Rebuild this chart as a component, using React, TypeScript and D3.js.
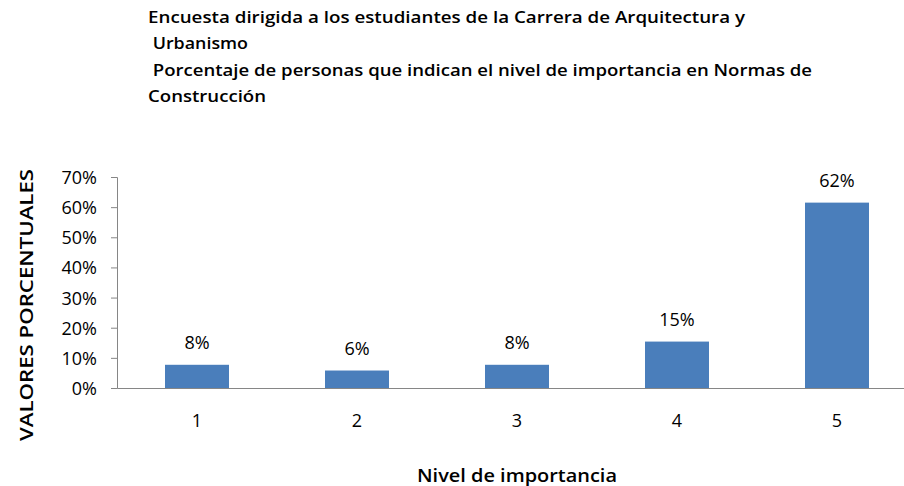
import React, { useEffect, useRef } from "react";
import { select, scaleBand, scaleLinear, axisLeft, axisBottom, format } from "d3";

const categories = ["1", "2", "3", "4", "5"];
const values = [0.077, 0.058, 0.077, 0.154, 0.615];
const yTicks = [0, 0.1, 0.2, 0.3, 0.4, 0.5, 0.6, 0.7];
const titleLines = [
  "Encuesta dirigida a los estudiantes de la Carrera de Arquitectura y",
  " Urbanismo",
  " Porcentaje de personas que indican el nivel de importancia en Normas de",
  "Construcción",
];

function App() {
  const ref = useRef<SVGSVGElement>(null);

  useEffect(() => {
    const svg = select(ref.current);
    svg.selectAll("*").remove();
    const font = "'Open Sans', 'Noto Sans', sans-serif";
    const axisColor = "#868686";

    const x = scaleBand().domain(categories).range([117, 917]).paddingInner(0.6).paddingOuter(0.3);
    const y = scaleLinear().domain([0, 0.7]).range([388, 177]);

    // title
    const titleWidths = [597, 100, 664, 118];
    svg
      .append("g")
      .selectAll("text")
      .data(titleLines)
      .join("text")
      .attr("x", 148)
      .attr("y", (d, i) => 23 + i * 26.3)
      .attr("font-family", font)
      .attr("font-weight", 600)
      .attr("font-size", 16.5)
      .attr("xml:space", "preserve")
      .style("white-space", "pre")
      .attr("textLength", (d, i) => titleWidths[i])
      .attr("lengthAdjust", "spacingAndGlyphs")
      .text((d) => d);

    // y axis
    const yAxis = svg
      .append("g")
      .attr("transform", "translate(117,0)")
      .call(axisLeft(y).tickValues(yTicks).tickFormat(format(".0%")).tickSize(6).tickPadding(14));
    yAxis.select(".domain").attr("stroke", axisColor);
    yAxis.selectAll(".tick line").attr("stroke", axisColor);
    yAxis
      .selectAll(".tick text")
      .attr("font-family", font)
      .attr("font-size", 18)
      .attr("fill", "#000")
      .attr("dy", "0.36em");

    // bars
    svg
      .append("g")
      .selectAll("rect")
      .data(values)
      .join("rect")
      .attr("x", (d, i) => x(categories[i]) as number)
      .attr("y", (d) => y(d))
      .attr("width", x.bandwidth())
      .attr("height", (d) => 388 - y(d))
      .attr("fill", "#4a7ebb");

    // data labels
    svg
      .append("g")
      .selectAll("text")
      .data(values)
      .join("text")
      .attr("x", (d, i) => (x(categories[i]) as number) + x.bandwidth() / 2)
      .attr("y", (d) => y(d) - 16)
      .attr("text-anchor", "middle")
      .attr("font-family", font)
      .attr("font-size", 18)
      .text((d) => format(".0%")(d));

    // x axis
    const xAxis = svg
      .append("g")
      .attr("transform", "translate(0,388)")
      .call(axisBottom(x).tickSize(0).tickPadding(26));
    xAxis.select(".domain").attr("stroke", axisColor);
    xAxis
      .selectAll(".tick text")
      .attr("font-family", font)
      .attr("font-size", 18)
      .attr("fill", "#000");

    // axis titles
    svg
      .append("text")
      .attr("x", 517)
      .attr("y", 482)
      .attr("text-anchor", "middle")
      .attr("font-family", font)
      .attr("font-weight", 600)
      .attr("font-size", 18.5)
      .attr("textLength", 200)
      .attr("lengthAdjust", "spacingAndGlyphs")
      .text("Nivel de importancia");

    svg
      .append("text")
      .attr("transform", "translate(33,305) rotate(-90)")
      .attr("text-anchor", "middle")
      .attr("font-family", font)
      .attr("font-weight", 600)
      .attr("font-size", 18)
      .attr("textLength", 272)
      .attr("lengthAdjust", "spacingAndGlyphs")
      .text("VALORES PORCENTUALES");
  }, []);

  return (
    <svg
      ref={ref}
      width="904"
      height="486"
      style={{ position: "absolute", left: 0, top: 0, background: "#fff" }}
    ></svg>
  );
}

export default App;
